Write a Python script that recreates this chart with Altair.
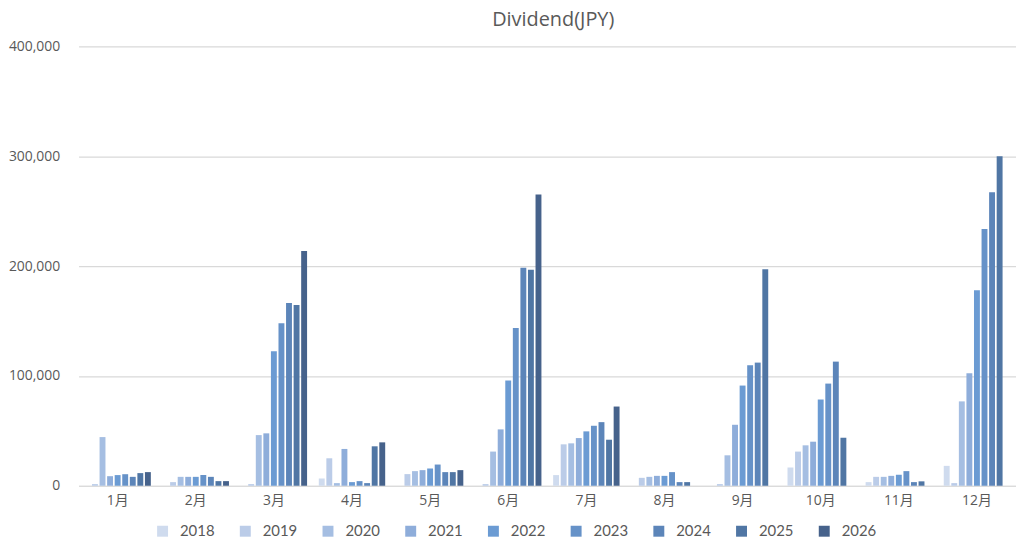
import altair as alt
import pandas as pd

months = ["1月", "2月", "3月", "4月", "5月", "6月", "7月", "8月", "9月", "10月", "11月", "12月"]
years = ["2018", "2019", "2020", "2021", "2022", "2023", "2024", "2025", "2026"]

v2018 = [0, 0, 0, 6600, 0, 0, 9700, 0, 0, 16600, 3300, 18100]
v2019 = [1500, 3300, 1500, 25000, 10600, 1500, 37700, 7200, 1500, 31100, 8100, 2400]
v2020 = [44300, 8100, 46100, 2400, 13300, 31100, 38600, 8100, 27700, 36800, 8100, 76800]
v2021 = [8700, 8100, 47700, 33500, 14200, 51300, 43400, 9000, 55500, 40100, 9000, 102400]
v2022 = [9700, 8100, 122400, 3300, 15700, 95800, 49500, 9000, 91200, 78500, 10000, 178000]
v2023 = [10500, 9700, 147900, 4200, 19300, 143600, 54600, 12400, 109700, 93000, 13300, 233700]
v2024 = [8100, 8100, 166400, 2400, 12400, 198500, 57900, 3300, 112100, 113000, 3300, 267200]
v2025 = [11500, 4200, 164500, 35900, 12400, 196700, 41900, 3300, 197000, 43700, 4000, 300000]
v2026 = [12400, 4200, 213600, 39500, 14200, 265200, 72100, 0, 0, 0, 0, 0]

series = [v2018, v2019, v2020, v2021, v2022, v2023, v2024, v2025, v2026]
colors = ["#cfdbee", "#bbcce8", "#a5bee2", "#8eadda", "#6b9bd3", "#6692c8", "#5c85b9", "#5076a4", "#46628b"]

rows = []
for y, vals in zip(years, series):
    for m, v in zip(months, vals):
        if v > 0:
            rows.append({"month": m, "year": y, "value": v})
df = pd.DataFrame(rows)

font = "Open Sans, Noto Sans CJK JP"
gray = "#595959"

chart = alt.Chart(df).mark_bar().encode(
    x=alt.X("month:N", sort=months,
            scale=alt.Scale(domain=months, paddingInner=0.15, paddingOuter=0.075),
            axis=alt.Axis(title=None, labelAngle=0, ticks=False, labelPadding=8,
                          domainColor="#d9d9d9", domainWidth=1.2, labelFontSize=14,
                          labelColor=gray, labelFont=font, grid=False)),
    xOffset=alt.XOffset("year:N", scale=alt.Scale(domain=years, paddingInner=0.22)),
    y=alt.Y("value:Q", scale=alt.Scale(domain=[0, 400000]),
            axis=alt.Axis(title=None, values=[0, 100000, 200000, 300000, 400000],
                          labelExpr="format(datum.value, ',')",
                          ticks=False, domain=False, labelPadding=19, gridColor="#d9d9d9",
                          gridWidth=1.2, labelFontSize=14, labelColor=gray, labelFont=font)),
    color=alt.Color("year:N", scale=alt.Scale(domain=years, range=colors),
                    legend=alt.Legend(title=None, orient="none", direction="horizontal",
                                      columns=9, legendX=77, legendY=480,
                                      symbolType="square", symbolSize=121, symbolStrokeWidth=0,
                                      labelFontSize=15, labelColor=gray, labelFont="Lato",
                                      labelOffset=10, columnPadding=23.2)),
).properties(
    width=943,
    height=442,
    title=alt.TitleParams("Dividend(JPY)", fontSize=20, font="Open Sans", color=gray,
                          fontWeight="normal", anchor="middle", offset=9, dx=6),
    autosize=alt.AutoSizeParams(type="none"),
    padding={"left": 71, "top": 37, "right": 0, "bottom": 54},
).configure_view(stroke=None)

chart.save("out.html", embed_options={"renderer": "svg", "actions": False})
